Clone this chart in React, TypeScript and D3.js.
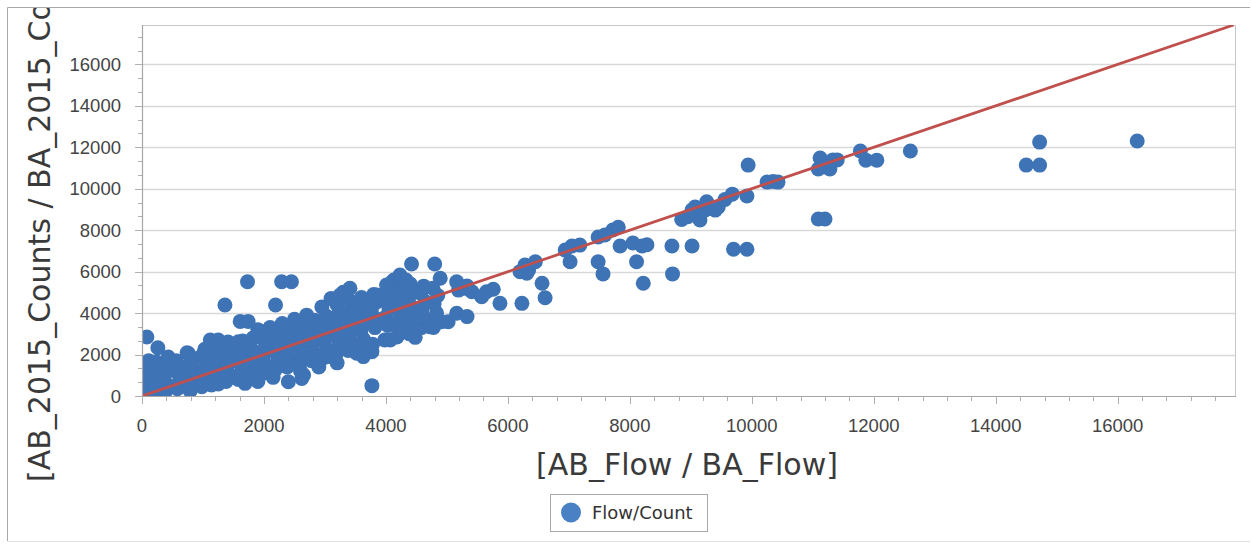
import React from "react";
import * as d3 from "d3";

// ---- Data: [AB_Flow / BA_Flow, AB_2015_Counts / BA_2015_Counts] ----
const denseBand: [number, number][] = [
  [20,150],[60,480],[40,820],[90,1150],[30,1450],[110,1700],[80,300],
  [180,60],[220,420],[170,760],[240,1080],[200,1380],[230,1650],
  [380,200],[420,540],[360,900],[440,1250],[400,1560],[430,1880],
  [580,350],[620,700],[600,1050],[650,1400],[560,1700],
  [790,250],[820,620],[780,980],[840,1300],[800,1650],[760,2050],
  [980,450],[1020,820],[1000,1180],[1050,1520],[970,1900],[1030,2250],
  [1180,600],[1230,950],[1190,1350],[1250,1700],[1160,2050],[1220,2450],
  [1380,700],[1420,1100],[1400,1500],[1450,1850],[1370,2200],[1410,2600],
  [1580,800],[1640,1200],[1600,1600],[1620,2000],[1560,2350],[1650,2650],
  [1780,950],[1830,1350],[1800,1750],[1850,2150],[1760,2500],[1820,2800],
  [1980,1100],[2030,1500],[1990,1900],[2050,2300],[2000,2700],[1960,3000],
  [2180,1250],[2230,1650],[2200,2050],[2250,2450],[2160,2850],[2220,3150],
  [2380,1400],[2420,1800],[2400,2200],[2450,2600],[2370,3000],[2430,3350],
  [2580,1500],[2630,1950],[2590,2350],[2650,2750],[2570,3150],[2620,3500],
  [2780,1700],[2820,2100],[2800,2500],[2850,2900],[2760,3300],[2830,3650],
  [2980,1850],[3030,2250],[2990,2650],[3050,3050],[2970,3450],[3020,3850],
  [3180,2000],[3220,2400],[3200,2800],[3250,3200],[3170,3600],[3230,4000],[3200,4400],
  [3380,2200],[3420,2600],[3400,3000],[3450,3400],[3370,3800],[3430,4200],[3400,4600],
  [3580,2350],[3630,2750],[3590,3150],[3650,3550],[3570,3950],[3620,4350],[3600,4750],
  [3780,2500],[3820,3300],[3850,3700],[3760,4100],[3830,4500],[3800,4900],
  [3980,2700],[4030,3400],[3990,3800],[4050,4200],[3970,4600],[4020,5000],
  [4180,2850],[4230,3250],[4200,3650],[4250,4050],[4170,4450],[4220,4850],[4200,5200],
  [4380,3000],[4420,3450],[4400,3850],[4450,4250],[4370,4650],[4430,5050],[4400,5400],
  [4580,3300],[4630,3750],[4590,4150],[4650,4550],[4570,4950],[4620,5300],
  [4780,3550],[4830,4000],[4790,4450],[4850,4850],[4770,5200],
  [4330,5600],[4100,5500],[4130,5600],[4380,5250],
  [1900,3200],[2100,3300],[2300,3500],[2500,3700],[2700,3900],[2600,3400],
  [2950,4300],[3100,4700],[3300,5000],
  [1900,700],[2150,900],[2600,1200],[2900,1400],[3200,1600],
];

const lowRangeOutliers: [number, number][] = [
  [80,2850],[260,2330],[740,2090],[1360,4390],[1730,5510],[2290,5510],[2450,5510],
  [2190,4390],[1610,3600],[1740,3600],[1120,2700],[1250,2700],[1580,2620],[1690,2380],
  [2400,690],[2620,850],[2650,1010],[1140,530],[1250,580],[1690,610],[3770,500],
  [4420,6370],[4800,6370],[4230,5840],[4890,5680],[3410,5200],[3250,4870],[3030,3830],
  [4720,3340],[4910,3580],[4480,2830],[4260,3180],[3850,4870],[4010,5350],[3740,4390],
  [3580,2060],[3770,2140],[2760,2700],[2870,1900],[3080,1900],[3520,2060],[3630,1900],
  [4070,2700],[4780,3310],[5020,3580],[4290,3180],
];

const midRange: [number, number][] = [
  [5160,5510],[5330,5310],[5190,5110],[5410,5030],[5300,5200],[5160,3990],[5330,3830],
  [5570,4790],[5650,5030],[5760,5150],[5870,4470],[6230,4470],[6200,6000],[6280,6320],
  [6340,6080],[6450,6480],[6310,5920],[6560,5440],[6610,4740],[6940,7040],[7050,7240],
  [7180,7280],[7020,6480],[7480,7670],[7590,7770],[7720,8010],[7810,8140],[7480,6480],
  [7560,5890],[7840,7240],[8050,7380],[8200,7240],[8280,7300],[8110,6480],[8220,5440],
  [8690,7240],[9020,7240],[8700,5890],[9700,7080],[9920,7080],
];

const highRange: [number, number][] = [
  [8850,8520],[8950,8650],[9070,9120],[9150,8490],[9100,8830],[9260,9370],[9230,8970],
  [9400,8970],[9450,9120],[9560,9480],[9680,9740],[9320,9130],[9020,8970],[9920,9650],
  [9940,11140],[10250,10320],[10350,10350],[10430,10320],[11090,8540],[11200,8540],
  [11120,11480],[11330,11390],[11230,11050],[11280,10950],[11400,11390],[11090,10950],
  [11780,11820],[11870,11380],[12050,11380],[12600,11820],
  [14500,11140],[14720,11140],[14720,12250],[16320,12300],
];

const flowTicks = [0, 2000, 4000, 6000, 8000, 10000, 12000, 14000, 16000];
const countTicks = [0, 2000, 4000, 6000, 8000, 10000, 12000, 14000, 16000];
const flowMax = 17940;
const countMax = 17900;
const seriesName = "Flow/Count";
const xTitle = "[AB_Flow / BA_Flow]";
const yTitle = "[AB_2015_Counts / BA_2015_Counts]";

export default function App() {
  const W = 1251, H = 546;
  const left = 142, right = 1236, top = 25, bottom = 396;
  const x = d3.scaleLinear().domain([0, flowMax]).range([left, right]);
  const y = d3.scaleLinear().domain([0, countMax]).range([bottom, top]);
  const pts = [...denseBand, ...lowRangeOutliers, ...midRange, ...highRange];
  const xMinor = d3.range(0, flowMax, 400);
  const yMinor = d3.range(0, countMax, 2000 / 3);
  const lineEnd = Math.min(flowMax, countMax);
  const line = d3.line<[number, number]>().x(d => x(d[0])).y(d => y(d[1]))([[0, 0], [lineEnd, lineEnd]]) || "";
  const dotColor = "#3e73b6";
  const tickFont = "'Liberation Sans', Arial, sans-serif";
  const titleFont = "'DejaVu Sans', Verdana, sans-serif";
  return (
    <div style={{ position: "fixed", left: 0, top: 0 }}>
      <svg width={W} height={H} style={{ display: "block", background: "#fff" }}>
        <defs>
          <clipPath id="frameClip"><rect x={8} y={8} width={1241} height={532} /></clipPath>
          <clipPath id="plotClip"><rect x={left} y={top} width={right - left} height={bottom - top} /></clipPath>
        </defs>
        {/* outer frame */}
        <line x1={7.5} y1={7.5} x2={1250} y2={7.5} stroke="#a8a8a8" />
        <line x1={7.5} y1={7.5} x2={7.5} y2={541} stroke="#a8a8a8" />
        <line x1={7.5} y1={541.5} x2={1250} y2={541.5} stroke="#e0e0e0" />
        {/* gridlines */}
        {countTicks.filter(t => t > 0).map(t => (
          <line key={"g" + t} x1={left} x2={right} y1={Math.round(y(t)) + 0.5} y2={Math.round(y(t)) + 0.5} stroke="#d9d9d9" strokeWidth={1.3} />
        ))}
        {/* plot frame */}
        <line x1={left} x2={right} y1={top + 0.5} y2={top + 0.5} stroke="#c8c8c8" />
        <line x1={right - 0.5} x2={right - 0.5} y1={top} y2={bottom} stroke="#c8c8c8" />
        {/* points */}
        <g clipPath="url(#plotClip)">
          {pts.map((p, i) => (
            <circle key={i} cx={x(p[0])} cy={y(p[1])} r={7.5} fill={dotColor} />
          ))}
          <path d={line} stroke="#c0504d" strokeWidth={2.8} fill="none" />
        </g>
        {/* axes */}
        <line x1={left + 0.5} x2={left + 0.5} y1={top} y2={bottom} stroke="#a6a6a6" strokeWidth={1.2} />
        <line x1={left} x2={right} y1={bottom + 0.5} y2={bottom + 0.5} stroke="#a6a6a6" strokeWidth={1.2} />
        {xMinor.map(t => {
          const major = t % 2000 === 0;
          return <line key={"xt" + t} x1={Math.round(x(t)) + 0.5} x2={Math.round(x(t)) + 0.5} y1={bottom} y2={bottom + (major ? 8 : 5)} stroke="#b0b0b0" />;
        })}
        {yMinor.map((t, i) => {
          const major = i % 3 === 0;
          return <line key={"yt" + i} x1={left - (major ? 7 : 4)} x2={left} y1={Math.round(y(t)) + 0.5} y2={Math.round(y(t)) + 0.5} stroke="#b0b0b0" />;
        })}
        {flowTicks.map(t => (
          <text key={"xl" + t} x={x(t)} y={432} textAnchor="middle" fontFamily={tickFont} fontSize={18.5} fill="#444">{t}</text>
        ))}
        {countTicks.map(t => (
          <text key={"yl" + t} x={121} y={y(t) + 6.6} textAnchor="end" fontFamily={tickFont} fontSize={18.5} fill="#444">{t}</text>
        ))}
        {/* axis titles */}
        <text x={687} y={475} textAnchor="middle" fontFamily={titleFont} fontSize={30} fill="#3a3a3a">{xTitle}</text>
        <g clipPath="url(#frameClip)">
          <text transform="translate(50,482) rotate(-90)" x={0} y={0} textAnchor="start" fontFamily={titleFont} fontSize={30} fill="#3a3a3a">{yTitle}</text>
        </g>
        {/* legend */}
        <rect x={550.5} y={494.5} width={157} height={37} fill="#fff" stroke="#a8a8a8" />
        <circle cx={571} cy={512.5} r={10} fill="#4a80c4" />
        <text x={592} y={518.5} fontFamily={titleFont} fontSize={18} fill="#333">{seriesName}</text>
      </svg>
    </div>
  );
}
